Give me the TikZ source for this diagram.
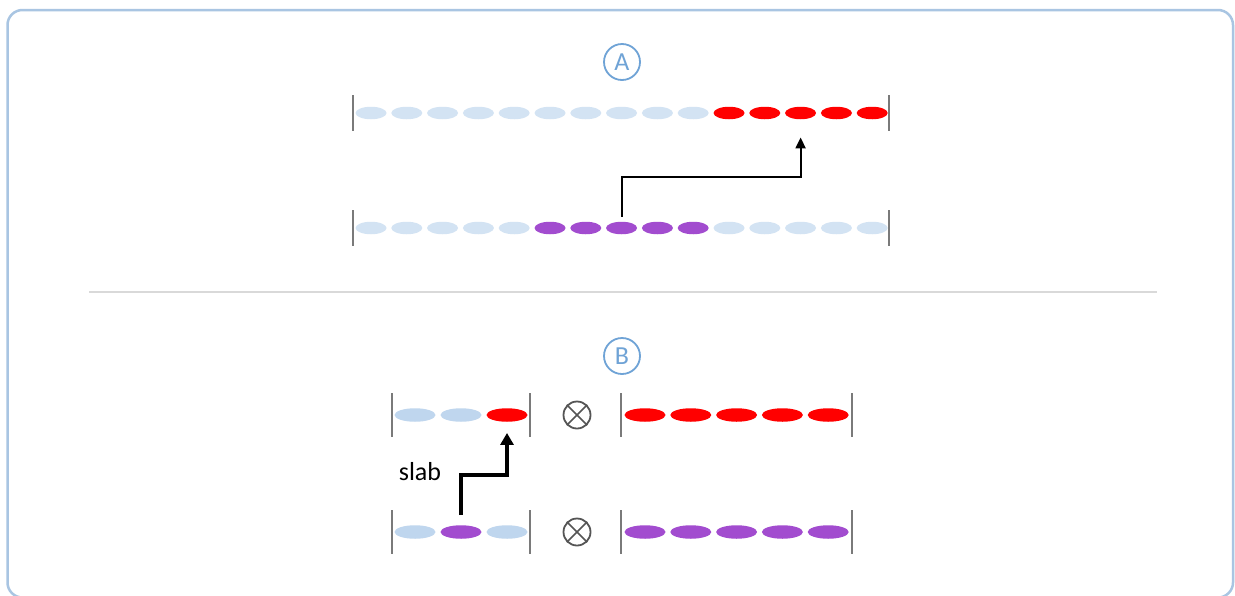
\documentclass[tikz,border=0pt]{standalone}
\usepackage{fontspec}
\setmainfont{Carlito}
\usetikzlibrary{shapes.geometric,arrows.meta}
\definecolor{frameblue}{HTML}{A9C5E2}
\definecolor{idle}{HTML}{D3E3F3}
\definecolor{idleB}{HTML}{BFD6EE}
\definecolor{hot}{HTML}{FF0000}
\definecolor{grape}{HTML}{A24CCF}
\definecolor{tagblue}{HTML}{6FA3D6}
\definecolor{bargray}{HTML}{7A7A7A}
\definecolor{opgray}{HTML}{555555}
\begin{document}
\begin{tikzpicture}[x=1pt,y=-1pt,
  bead/.style={ellipse,inner sep=0pt,draw=none,fill=#1},
  smallbead/.style={bead=#1,minimum width=31pt,minimum height=12.5pt},
  bigbead/.style={bead=#1,minimum width=41pt,minimum height=13.5pt},
  endbar/.style={draw=bargray,line width=2pt},
  tag/.style={circle,draw=tagblue,line width=1.8pt,text=tagblue,minimum size=36pt,
    inner sep=0pt,font=\fontsize{26}{26}\selectfont},
  opcircle/.style={circle,draw=opgray,line width=1.8pt,minimum size=27pt,inner sep=0pt},
  link/.style={draw=black,line width=2.2pt,-{Triangle[length=11pt,width=10pt]}},
  boldlink/.style={draw=black,line width=3.5pt,-{Triangle[length=12pt,width=13pt]}}
]
\useasboundingbox (0,0) rectangle (1235,595);
\clip (0,0) rectangle (1235,595);
\fill[white] (0,0) rectangle (1235,595);
\draw[frameblue,line width=2.5pt,rounded corners=15pt] (7.5,10) rectangle (1233,597.5);

% ---- part A ----
\node[tag] (tagA) at (622,62) {A};

\foreach \i in {1,...,15}{
  \pgfmathsetmacro{\cx}{371+(\i-1)*35.8}
  \ifnum\i>10
    \node[smallbead=hot] (a1-\i) at (\cx,113) {};
  \else
    \node[smallbead=idle] (a1-\i) at (\cx,113) {};
  \fi
  \ifnum\i>5 \ifnum\i<11
    \node[smallbead=grape] (a2-\i) at (\cx,228) {};
  \else
    \node[smallbead=idle] (a2-\i) at (\cx,228) {};
  \fi\else
    \node[smallbead=idle] (a2-\i) at (\cx,228) {};
  \fi
}
\draw[endbar] (353,95) -- (353,131);
\draw[endbar] (889,95) -- (889,131);
\draw[endbar] (353,210) -- (353,246);
\draw[endbar] (889,210) -- (889,246);

\coordinate (aturn) at (622,177);
\draw[link,shorten <=5pt,shorten >=18pt] (a2-8.north) |- (aturn -| a1-13.south) -- (a1-13.south);

% separator
\draw[gray!30,line width=1.2pt] (89,292) -- (1157,292);

% ---- part B ----
\node[tag] (tagB) at (622,356) {B};

\node[bigbead=idleB] (b1-1) at (415,415) {};
\node[bigbead=idleB] (b1-2) at (461,415) {};
\node[bigbead=hot]   (b1-3) at (507,415) {};
\node[bigbead=idleB] (b2-1) at (415,532) {};
\node[bigbead=grape] (b2-2) at (461,532) {};
\node[bigbead=idleB] (b2-3) at (507,532) {};

\foreach \k in {1,...,5}{
  \pgfmathsetmacro{\cx}{645+(\k-1)*45.8}
  \node[bigbead=hot]   (c1-\k) at (\cx,415) {};
  \node[bigbead=grape] (c2-\k) at (\cx,532) {};
}

\foreach \bx in {392,530,621,852}{
  \draw[endbar] (\bx,393) -- (\bx,437);
  \draw[endbar] (\bx,510) -- (\bx,554);
}

\node[opcircle] (ox1) at (577,415) {};
\node[opcircle] (ox2) at (577,532) {};
\foreach \o in {ox1,ox2}{
  \draw[opgray,line width=1.6pt] (\o.north east) -- (\o.south west);
  \draw[opgray,line width=1.6pt] (\o.north west) -- (\o.south east);
}

\coordinate (bturn) at (461,475);
\draw[boldlink,shorten <=10pt,shorten >=11pt] (b2-2.north) |- (bturn -| b1-3.south) -- (b1-3.south);
\node[font=\fontsize{26}{26}\selectfont] (slab) at (420,472) {slab};
\end{tikzpicture}
\end{document}
